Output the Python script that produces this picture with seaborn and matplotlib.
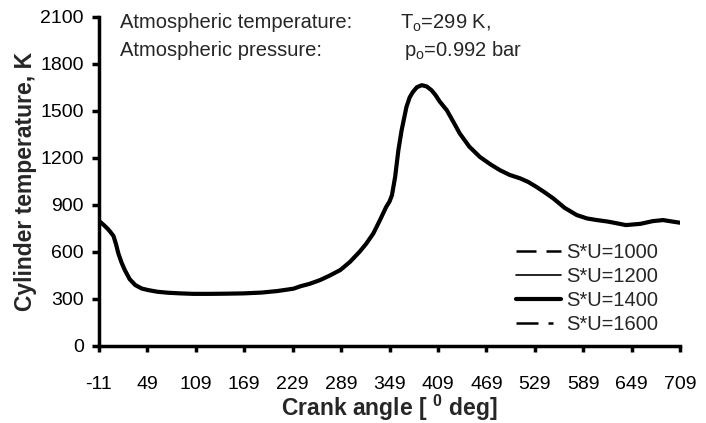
import numpy as np
import pandas as pd
import matplotlib
matplotlib.use("Agg")
import matplotlib.pyplot as plt
import seaborn as sns

# Crank angle [deg] and cylinder temperature [K]
crank_angle = [-11, -5, 0, 3, 7, 10, 13, 17, 21, 27, 34, 42, 50, 62, 75, 90,
               106, 125, 145, 168, 190, 210, 230, 239, 250, 263, 275, 288, 300,
               312, 320, 329, 337, 345, 349, 352, 356, 360, 364, 370, 374, 378,
               383, 389, 395, 401, 406, 411, 420, 428, 436, 448, 461, 474, 486,
               498, 511, 521, 531, 541, 552, 566, 581, 594, 606, 620, 642, 660,
               675, 688, 700, 709]
temp_su1400 = [797, 770, 745, 727, 700, 650, 589, 530, 483, 425, 387, 365, 355,
               344, 338, 334, 331, 331, 332, 334, 339, 349, 364, 380, 395, 419,
               448, 483, 535, 600, 650, 717, 800, 887, 920, 960, 1078, 1248,
               1375, 1524, 1585, 1620, 1650, 1663, 1655, 1631, 1600, 1560, 1503,
               1430, 1355, 1270, 1205, 1158, 1120, 1090, 1068, 1045, 1014, 980,
               940, 880, 834, 812, 802, 792, 770, 778, 795, 802, 792, 785]
# the other speeds lie on top of the S*U=1400 curve in the figure
temp_su1000 = list(temp_su1400)
temp_su1200 = list(temp_su1400)
temp_su1600 = list(temp_su1400)

series_labels = ["S*U=1000", "S*U=1200", "S*U=1400", "S*U=1600"]
x_ticks = list(range(-11, 710, 60))
y_ticks = list(range(0, 2101, 300))

sns.set_style("ticks")
plt.rcParams["font.family"] = ["Liberation Sans", "DejaVu Sans"]
plt.rcParams["mathtext.fontset"] = "custom"
plt.rcParams["mathtext.rm"] = "Liberation Sans"
plt.rcParams["mathtext.bf"] = "Liberation Sans:bold"
plt.rcParams["axes.unicode_minus"] = False

fig = plt.figure(figsize=(7.06, 4.23), dpi=100)
ax = fig.add_axes([0.1402, 0.1827, 0.8230, 0.7778])

styles = {
    "S*U=1000": dict(lw=1.8, dashes=(8, 4)),
    "S*U=1200": dict(lw=1.2, dashes=()),
    "S*U=1400": dict(lw=3.0, dashes=()),
    "S*U=1600": dict(lw=1.8, dashes=(8.8, 4, 2, 4)),
}
for lab, temps in zip(series_labels, [temp_su1000, temp_su1200, temp_su1400, temp_su1600]):
    df = pd.DataFrame({"angle": crank_angle, "T": temps})
    st = styles[lab]
    line_kw = {"dashes": st["dashes"]} if st["dashes"] else {}
    sns.lineplot(data=df, x="angle", y="T", ax=ax, color="black", lw=st["lw"],
                 label=lab, **line_kw)

ax.set_xlim(-11, 709)
ax.set_ylim(0, 2100)
ax.set_xticks(x_ticks)
ax.set_yticks(y_ticks)
sns.despine(ax=ax)
for sp in ["left", "bottom"]:
    ax.spines[sp].set_linewidth(2.5)
    ax.spines[sp].set_color("black")
ax.tick_params(axis="both", colors="black", labelsize=14, width=2.5)
ax.tick_params(axis="x", pad=18, length=4)
ax.tick_params(axis="y", pad=6, length=5)

ax.set_xlabel(r"Crank angle [ $^{\bf 0}$ deg]", fontsize=16.5, fontweight="bold", labelpad=0)
ax.set_ylabel("Cylinder temperature, K", fontsize=16.5, fontweight="bold", labelpad=2)

ax.text(0.036, 0.965, "Atmospheric temperature:", transform=ax.transAxes,
        fontsize=14.5, va="baseline", ha="left")
ax.text(0.036, 0.881, "Atmospheric pressure:", transform=ax.transAxes,
        fontsize=14.5, va="baseline", ha="left")
ax.text(0.518, 0.965, r"T$_{\rm o}$=299 K,", transform=ax.transAxes,
        fontsize=14.5, va="baseline", ha="left")
ax.text(0.525, 0.881, r"p$_{\rm o}$=0.992 bar", transform=ax.transAxes,
        fontsize=14.5, va="baseline", ha="left")

ax.legend(loc="lower right", bbox_to_anchor=(0.962, 0.036), frameon=False,
          fontsize=14.5, handlelength=2.25, handletextpad=0.25, labelspacing=0.25,
          borderaxespad=0.0, borderpad=0.0)

fig.savefig("out.png", dpi=100)
